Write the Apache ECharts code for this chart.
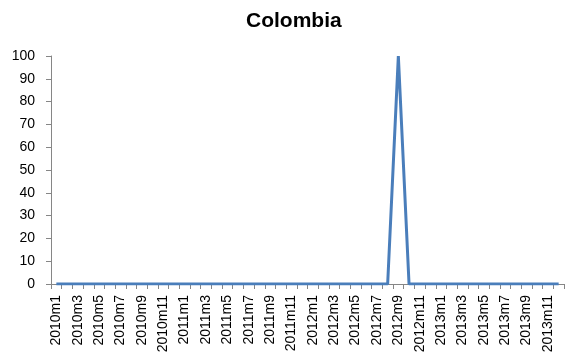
<!DOCTYPE html>
<html>
<head>
<meta charset="utf-8">
<script src="https://cdn.jsdelivr.net/npm/echarts@6/dist/echarts.min.js"></script>
<style>
  html, body { margin: 0; padding: 0; background: #fff; }
  #chart { width: 566px; height: 360px; }
</style>
</head>
<body>
<div id="chart"></div>
<script>
// Monthly categories 2010m1 .. 2013m12
const years = [2010, 2011, 2012, 2013];
const months = [];
years.forEach(y => { for (let m = 1; m <= 12; m++) months.push(y + 'm' + m); });

// Series values, one per month
const values = [
  0, 0, 0, 0, 0, 0, 0, 0, 0, 0, 0, 0,
  0, 0, 0, 0, 0, 0, 0, 0, 0, 0, 0, 0,
  0, 0, 0, 0, 0, 0, 0, 0, 100, 0, 0, 0,
  0, 0, 0, 0, 0, 0, 0, 0, 0, 0, 0, 0
];

const yTicks = { min: 0, max: 100, interval: 10 };

const chart = echarts.init(document.getElementById('chart'), null, { renderer: 'canvas' });
chart.setOption({
  animation: false,
  title: {
    text: 'Colombia',
    left: 241,
    top: 6,
    textStyle: { fontFamily: 'Liberation Sans, Arial, sans-serif', fontSize: 21, fontWeight: 'bold', color: '#000' }
  },
  grid: { left: 51, right: 2, top: 56, bottom: 76, containLabel: false },
  xAxis: {
    type: 'category',
    data: months,
    boundaryGap: true,
    axisLine: { lineStyle: { color: '#868686', width: 1 } },
    axisTick: { show: true, interval: 0, length: 5, lineStyle: { color: '#868686' } },
    axisLabel: {
      interval: 1,
      rotate: 90,
      margin: 11,
      fontFamily: 'Liberation Sans, Arial, sans-serif',
      fontSize: 14,
      color: '#000'
    },
    splitLine: { show: false }
  },
  yAxis: {
    type: 'value',
    min: yTicks.min,
    max: yTicks.max,
    interval: yTicks.interval,
    axisLine: { show: true, lineStyle: { color: '#868686', width: 1 } },
    axisTick: { show: true, length: 5, lineStyle: { color: '#868686' } },
    axisLabel: {
      margin: 16,
      fontFamily: 'Liberation Sans, Arial, sans-serif',
      fontSize: 14,
      color: '#000'
    },
    splitLine: { show: false }
  },
  series: [{
    type: 'line',
    data: values,
    symbol: 'none',
    lineStyle: { color: '#4a7ebb', width: 3 },
    itemStyle: { color: '#4a7ebb' }
  }]
});
</script>
</body>
</html>
